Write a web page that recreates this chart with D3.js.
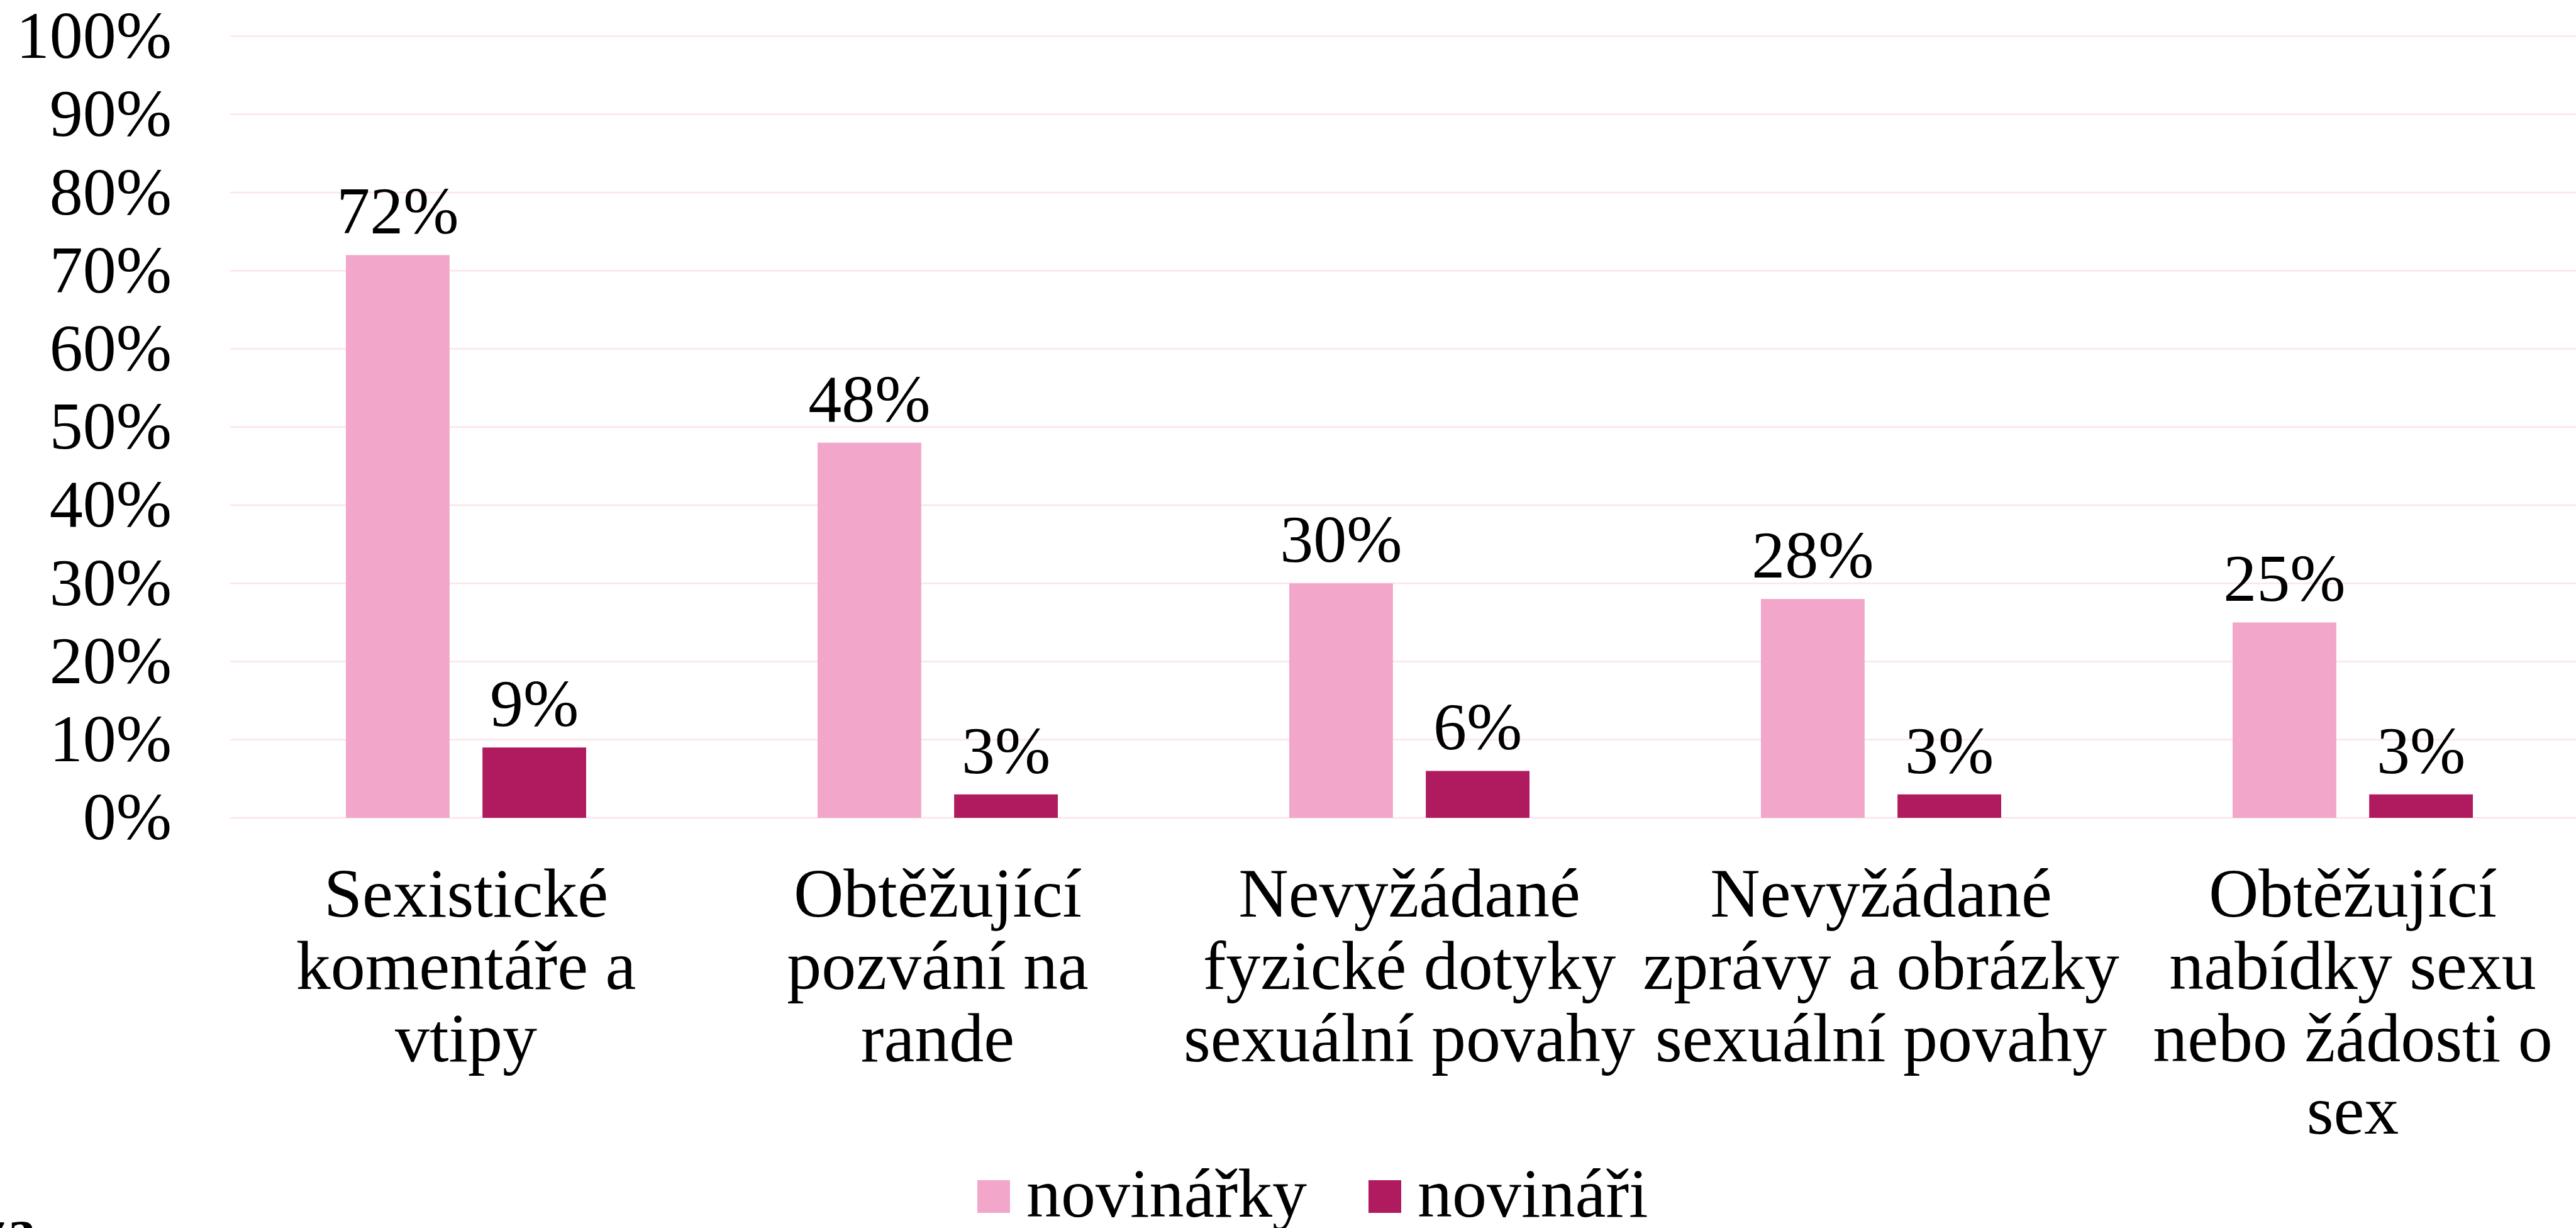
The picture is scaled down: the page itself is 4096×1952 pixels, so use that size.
<!DOCTYPE html>
<html>
<head>
<meta charset="utf-8">
<script src="https://cdn.jsdelivr.net/npm/d3@7"></script>
<style>
  html, body { margin: 0; padding: 0; background: #ffffff; overflow: hidden; }
  svg { display: block; }
  text { font-family: "Liberation Serif", "DejaVu Serif", serif; fill: #000; }
</style>
</head>
<body>
<svg id="chart" width="4096" height="1952"></svg>
<script>
// ---- data ----
const categories = [
  "Sexistické komentáře a vtipy",
  "Obtěžující pozvání na rande",
  "Nevyžádané fyzické dotyky sexuální povahy",
  "Nevyžádané zprávy a obrázky sexuální povahy",
  "Obtěžující nabídky sexu nebo žádosti o sex"
];
const categoryLines = [
  ["Sexistické", "komentáře a", "vtipy"],
  ["Obtěžující", "pozvání na", "rande"],
  ["Nevyžádané", "fyzické dotyky", "sexuální povahy"],
  ["Nevyžádané", "zprávy a obrázky", "sexuální povahy"],
  ["Obtěžující", "nabídky sexu", "nebo žádosti o", "sex"]
];
const seriesNames = ["novinářky", "novináři"];
const novinarky = [72, 48, 30, 28, 25];
const novinari = [9, 3, 6, 3, 3];
const tickValues = [0, 10, 20, 30, 40, 50, 60, 70, 80, 90, 100];
const seriesColors = ["#F2A6C9", "#B01A5E"];

// ---- layout ----
const svg = d3.select("#chart");
const W = 4096, H = 1952;
const plotLeft = 366, plotRight = 4116, plotTop = 57.6, plotBottom = 1300;

const x = d3.scaleBand().domain(categories).range([plotLeft, plotRight]).paddingInner(0).paddingOuter(0);
const xs = d3.scaleBand().domain(seriesNames).range([0, 382]).paddingInner(46 / 191).paddingOuter(0);
const y = d3.scaleLinear().domain([0, 100]).range([plotBottom, plotTop]);
const color = d3.scaleOrdinal().domain(seriesNames).range(seriesColors);

// gridlines
svg.append("g").selectAll("line").data(tickValues).join("line")
  .attr("x1", plotLeft).attr("x2", W)
  .attr("y1", d => y(d)).attr("y2", d => y(d))
  .attr("stroke", "#FCE4EC").attr("stroke-width", 2.5);

// y axis labels
const yAxis = d3.axisLeft(y).tickValues(tickValues).tickSize(0).tickPadding(0)
  .tickFormat(d => d + "%");
const gy = svg.append("g").attr("transform", "translate(273,0)").call(yAxis);
gy.select(".domain").remove();
gy.selectAll("text")
  .attr("font-family", "Liberation Serif")
  .attr("font-size", 106)
  .attr("fill", "#000")
  .attr("dy", "0.32em");

// bars
const groups = svg.append("g").selectAll("g").data(categories).join("g")
  .attr("transform", (d) => `translate(${x(d) + x.bandwidth() / 2 - 191},0)`);

const seriesData = (i) => [
  { s: seriesNames[0], v: novinarky[i] },
  { s: seriesNames[1], v: novinari[i] }
];

groups.each(function (c, i) {
  const g = d3.select(this);
  const dat = seriesData(i);
  g.selectAll("rect").data(dat).join("rect")
    .attr("x", d => xs(d.s))
    .attr("width", xs.bandwidth())
    .attr("y", d => y(d.v))
    .attr("height", d => y(0) - y(d.v))
    .attr("fill", d => color(d.s));
  g.selectAll("text.val").data(dat).join("text")
    .attr("class", "val")
    .attr("x", d => xs(d.s) + xs.bandwidth() / 2)
    .attr("y", d => y(d.v) - 34)
    .attr("text-anchor", "middle")
    .attr("font-size", 106)
    .text(d => d.v + "%");
});

// category labels
const lineH = 115;
svg.append("g").selectAll("text").data(categories).join("text")
  .attr("text-anchor", "middle")
  .attr("font-size", 110)
  .attr("transform", d => `translate(${x(d) + x.bandwidth() / 2},1457)`)
  .each(function (d, i) {
    d3.select(this).selectAll("tspan").data(categoryLines[i]).join("tspan")
      .attr("x", 0)
      .attr("y", (t, j) => j * lineH)
      .text(t => t);
  });

// legend
const legendItems = [
  { s: seriesNames[0], x: 1554 },
  { s: seriesNames[1], x: 2176 }
];
const lg = svg.append("g");
legendItems.forEach(it => {
  lg.append("rect").attr("x", it.x).attr("y", 1876).attr("width", 52).attr("height", 52)
    .attr("fill", color(it.s));
  lg.append("text").attr("x", it.x + 78).attr("y", 1934)
    .attr("font-size", 110).text(it.s);
});

// cut-off note at bottom-left
svg.append("text").attr("x", -30).attr("y", 1985)
  .attr("font-size", 92).attr("font-weight", "bold").text("za");
</script>
</body>
</html>
